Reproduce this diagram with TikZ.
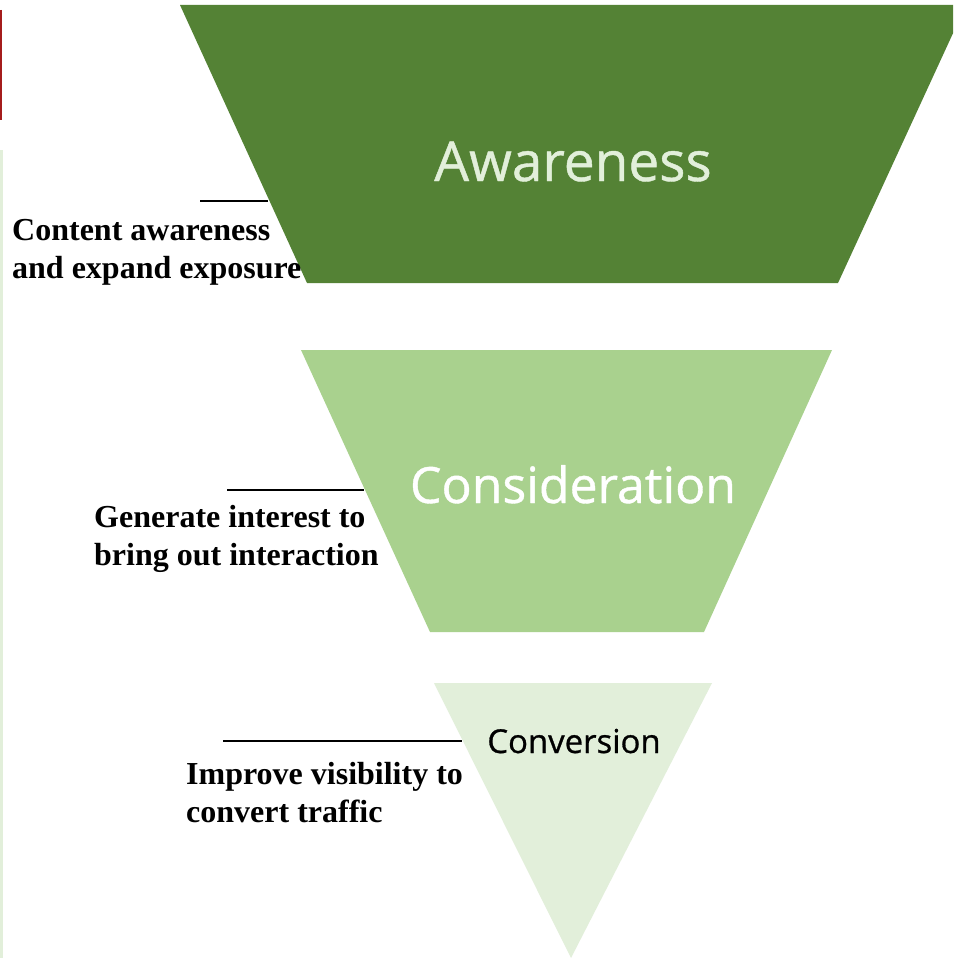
\documentclass[tikz,border=0pt]{standalone}
\usepackage{fontspec}
\setmainfont{Liberation Serif}
\newfontfamily\stagefont[FakeBold=0.8]{Open Sans}
\definecolor{deepgreen}{HTML}{548235}
\definecolor{midgreen}{HTML}{A9D18E}
\definecolor{palegreen}{HTML}{E2EFDA}
\definecolor{edgered}{HTML}{A51C1C}
\begin{document}
\begin{tikzpicture}[x=1pt,y=-1pt,
  stagetext/.style={anchor=base, inner sep=0pt, font=\stagefont},
  note/.style={anchor=base west, inner sep=0pt, align=left,
    font=\fontsize{32}{38}\selectfont\bfseries},
  leader/.style={draw=black, line width=1.2pt}]
  \useasboundingbox (0,0) rectangle (953,958);
  \fill[white] (0,0) rectangle (953,958);

  % margin rules on the left edge
  \draw[edgered, line width=2.5pt] (1.2,10) -- (1.2,120);
  \draw[palegreen, line width=3pt] (1.5,150) -- (1.5,958);

  % funnel stages
  \begin{scope}
    \clip (0,0) rectangle (953,958);
    \fill[deepgreen] (180,5) -- (966,5) -- (838,283) -- (307,283) -- cycle;
  \end{scope}
  \fill[midgreen] (301,350) -- (832,350) -- (704,632) -- (430,632) -- cycle;
  \fill[palegreen] (434,683) -- (712,683) -- (571,958) -- cycle;

  % stage titles
  \node[stagetext, text=palegreen, font=\stagefont\fontsize{55}{60}\selectfont] (aware) at (573,181) {Awareness};
  \node[stagetext, text=white, font=\stagefont\fontsize{50}{56}\selectfont] (consid) at (573,503) {Consideration};
  \node[stagetext, text=black, font=\stagefont\fontsize{32.9}{38}\selectfont] (conv) at (574,753) {Conversion};

  % side notes (anchored on the baseline of their last line)
  \node[note] (n1) at (12,278) {Content awareness\\and expand exposure};
  \node[note] (n2) at (94,565) {Generate interest to\\bring out interaction};
  \node[note] (n3) at (186,822) {Improve visibility to\\convert traffic};

  % leader rules above the notes
  \coordinate (r1a) at (200,201); \coordinate (r1b) at (268,201);
  \coordinate (r2a) at (227,490); \coordinate (r2b) at (364,490);
  \coordinate (r3a) at (223,741); \coordinate (r3b) at (462,741);
  \draw[leader] (r1a) -- (r1b);
  \draw[leader] (r2a) -- (r2b);
  \draw[leader] (r3a) -- (r3b);
\end{tikzpicture}
\end{document}
